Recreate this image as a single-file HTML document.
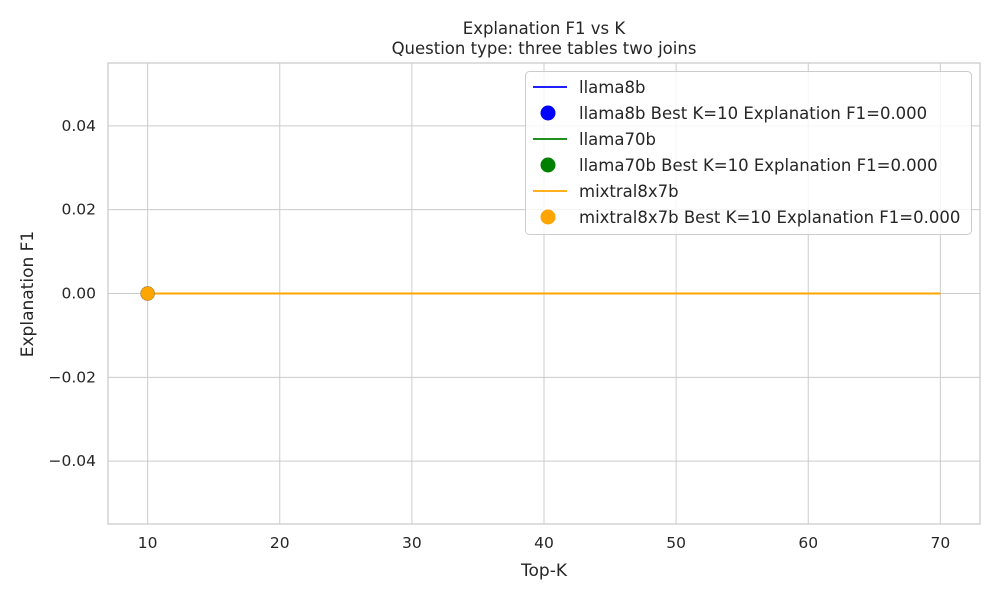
<!DOCTYPE html>
<html><head><meta charset="utf-8"><style>
body{margin:0;background:#fff;font-family:"Liberation Sans","DejaVu Sans",sans-serif;}
svg text{font-family:"DejaVu Sans","Liberation Sans",sans-serif;fill:#262626;}
</style></head><body>
<svg id="chart" width="1000" height="600" viewBox="0 0 1000 600">
<g id="grid"></g>
<g id="axes"></g>
<g id="series"></g>
<g id="legend"></g>
</svg>
<script>
const xTicks=[10,20,30,40,50,60,70];
const yTicks=[-0.04,-0.02,0.00,0.02,0.04];
const yTickLabels=["\u22120.04","\u22120.02","0.00","0.02","0.04"];
const kValues=[10,20,30,40,50,60,70];
const seriesNames=["llama8b","llama70b","mixtral8x7b"];
const seriesColors=["blue","green","orange"];
const llama8bF1=[0,0,0,0,0,0,0];
const llama70bF1=[0,0,0,0,0,0,0];
const mixtralF1=[0,0,0,0,0,0,0];
const bestK=[10,10,10];
const bestF1=[0,0,0];
const xDomain=[7,73], yDomain=[-0.055,0.055];
const L=108,R=980,T=63,B=524;
const NS="http://www.w3.org/2000/svg";
const sx=v=>L+(v-xDomain[0])/(xDomain[1]-xDomain[0])*(R-L);
const sy=v=>B-(v-yDomain[0])/(yDomain[1]-yDomain[0])*(B-T);
function mk(tag,attrs,parent,text){const e=document.createElementNS(NS,tag);for(const k in attrs)e.setAttribute(k,attrs[k]);if(text!==undefined)e.textContent=text;parent.appendChild(e);return e;}
const grid=document.getElementById('grid'),axes=document.getElementById('axes'),ser=document.getElementById('series'),leg=document.getElementById('legend');
xTicks.forEach(t=>{
 const l=mk('line',{x1:sx(t),x2:sx(t),y1:T,y2:B,stroke:'#cccccc','stroke-width':1},grid);
 
 
 const tx=mk('text',{x:sx(t),y:B+24,'text-anchor':'middle','font-size':15.5},axes,String(t));
 
 
});
yTicks.forEach((t,i)=>{
 const l=mk('line',{x1:L,x2:R,y1:sy(t),y2:sy(t),stroke:'#cccccc','stroke-width':1},grid);
 
 
 const tx=mk('text',{x:L-12,y:sy(t)+5,'text-anchor':'end','font-size':15.5},axes,yTickLabels[i]);
 
 
});
const frame=mk('rect',{x:L,y:T,width:R-L,height:B-T,fill:'none',stroke:'#cccccc','stroke-width':1.3},axes);


let e;
e=mk('text',{x:544,y:34,'text-anchor':'middle','font-size':16.5},axes,'Explanation F1 vs K');


e=mk('text',{x:544,y:54,'text-anchor':'middle','font-size':16.5},axes,'Question type: three tables two joins');


e=mk('text',{x:544,y:576,'text-anchor':'middle','font-size':17},axes,'Top-K');


e=mk('text',{x:33,y:294,'text-anchor':'middle','font-size':17,transform:'rotate(-90 33 294)'},axes,'Explanation F1');


const allData=[llama8bF1,llama70bF1,mixtralF1];
allData.forEach((d,i)=>{
 const p=mk('polyline',{points:kValues.map((k,j)=>sx(k)+','+sy(d[j])).join(' '),fill:'none',stroke:seriesColors[i],'stroke-width':1.8,'shape-rendering':'crispEdges'},ser);
 
 
});
allData.forEach((d,i)=>{
 const c=mk('circle',{cx:sx(bestK[i]),cy:sy(bestF1[i]),r:7,fill:seriesColors[i],stroke:'#a07a30','stroke-width':0.5},ser);
 
 
});
const lb=mk('rect',{x:525.5,y:71.5,width:446,height:163,rx:4,fill:'#fff','fill-opacity':0.8,stroke:'#cccccc'},leg);


seriesNames.forEach((n,i)=>{
 const y1=87+i*52, y2=113+i*52;
 const l=mk('line',{x1:533,x2:567,y1:y1,y2:y1,stroke:seriesColors[i],'stroke-width':1.8},leg);
 
 
 const t=mk('text',{x:579,y:y1+6,'font-size':16.5},leg,n);
 
 
 const c=mk('circle',{cx:548,cy:y2,r:7.5,fill:seriesColors[i]},leg);
 
 
 const t2=mk('text',{x:579,y:y2+6,'font-size':16.5},leg,n+' Best K='+bestK[i]+' Explanation F1='+bestF1[i].toFixed(3));
 
 
});
</script>
</body></html>
